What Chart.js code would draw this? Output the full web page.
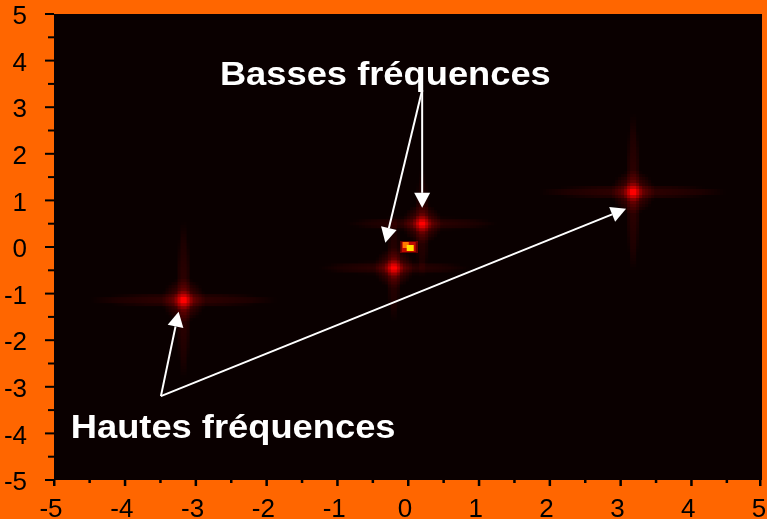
<!DOCTYPE html>
<html>
<head>
<meta charset="utf-8">
<script src="https://cdn.jsdelivr.net/npm/chart.js@4.4.1/dist/chart.umd.min.js"></script>
<style>
  html, body { margin: 0; padding: 0; background: #ff6600; }
  canvas { display: block; }
</style>
</head>
<body>
<canvas id="chart" width="767" height="519"></canvas>
<script>
const tickValues = [-5, -4, -3, -2, -1, 0, 1, 2, 3, 4, 5]
const minorTickValues = [-4.5, -3.5, -2.5, -1.5, -0.5, 0.5, 1.5, 2.5, 3.5, 4.5]

// spectrum peaks (frequency plane)
const innerPeakX = [0.2, -0.2]
const innerPeakY = [0.5, -0.45]
const outerPeakX = [3.18, -3.17]
const outerPeakY = [1.18, -1.14]
const centerX = [0.01]
const centerY = [0.0]

// annotations
const labelTexts = ['Basses fréquences', 'Hautes fréquences']
const labelX = [-0.32, -2.47]
const labelY = [3.48, -4.1]
const arrowFromX = [0.2, 0.2, -3.49, -3.49]
const arrowFromY = [3.37, 3.37, -3.2, -3.2]
const arrowToX = [0.2, -0.32, -3.24, 3.08]
const arrowToY = [0.84, 0.09, -1.39, 0.82]

const FONT = '"Liberation Sans", Arial, sans-serif'

const makeGlow = (armH, armV, coreR, armGain) => {
  const k = 3
  const w = Math.ceil((armH * 2) / k) + 2
  const h = Math.ceil((armV * 2) / k) + 2
  const small = document.createElement('canvas')
  small.width = w
  small.height = h
  const c = small.getContext('2d')
  c.fillStyle = '#000'
  c.fillRect(0, 0, w, h)
  c.globalCompositeOperation = 'lighter'
  const ellipse = (rx, ry, stops) => {
    c.save()
    c.translate(w / 2, h / 2)
    c.scale(rx / 100, ry / 100)
    const g = c.createRadialGradient(0, 0, 0, 0, 0, 100)
    stops.forEach(([o, col]) => g.addColorStop(o, col))
    c.fillStyle = g
    c.fillRect(-100, -100, 200, 200)
    c.restore()
  }
  const r = (v) => `rgb(${Math.round(v * armGain)},0,0)`
  const arm = [[0, r(55)], [0.3, r(34)], [0.75, r(18)], [1, 'rgb(0,0,0)']]
  ellipse(armH / k, 7 / k, arm)
  ellipse(7 / k, armV / k, arm)
  ellipse(coreR / k, coreR / k, [[0, 'rgb(215,0,0)'], [0.2, 'rgb(130,0,0)'], [0.5, 'rgb(45,0,0)'], [1, 'rgb(0,0,0)']])
  const big = document.createElement('canvas')
  big.width = w * k
  big.height = h * k
  const b = big.getContext('2d')
  b.imageSmoothingEnabled = false
  b.drawImage(small, 0, 0, w * k, h * k)
  return big
}

const makeCenter = () => {
  const cv = document.createElement('canvas')
  cv.width = 18
  cv.height = 12
  const c = cv.getContext('2d')
  c.fillStyle = 'rgb(80,0,0)'
  c.fillRect(0, 0, 18, 12)
  c.fillStyle = 'rgb(180,10,0)'
  c.fillRect(2, 1, 14, 10)
  c.fillStyle = 'rgb(255,120,0)'
  c.fillRect(3, 1, 6, 6)
  c.fillStyle = 'rgb(255,225,0)'
  c.fillRect(7, 4, 7, 6)
  return cv
}

const decorPlugin = {
  id: 'decor',
  beforeDraw(chart) {
    const { ctx, chartArea: a } = chart
    ctx.save()
    ctx.fillStyle = '#ff6600'
    ctx.fillRect(0, 0, chart.width, chart.height)
    ctx.fillStyle = '#0a0000'
    ctx.fillRect(a.left, a.top, a.right - a.left, a.bottom - a.top)
    ctx.restore()
  },
  beforeDatasetsDraw(chart) {
    chart.ctx.save()
    chart.ctx.globalCompositeOperation = 'lighter'
  },
  afterDatasetsDraw(chart) {
    chart.ctx.restore()
  },
  afterDraw(chart) {
    const { ctx, chartArea: a, scales: { x, y } } = chart
    ctx.save()
    // axis ticks
    ctx.fillStyle = '#000'
    tickValues.forEach((v) => {
      ctx.fillRect(a.left - 9, y.getPixelForValue(v) - 1, 9, 2)
      ctx.fillRect(Math.min(x.getPixelForValue(v), a.right - 2) - 1, a.bottom, 2.5, 6)
    })
    minorTickValues.forEach((v) => {
      ctx.fillRect(a.left - 6, y.getPixelForValue(v) - 1, 6, 2)
      ctx.fillRect(x.getPixelForValue(v) - 1, a.bottom, 2.5, 3)
    })
    // arrows
    ctx.strokeStyle = '#fff'
    ctx.fillStyle = '#fff'
    ctx.lineWidth = 2
    for (let i = 0; i < arrowFromX.length; i += 1) {
      const fx = x.getPixelForValue(arrowFromX[i])
      const fy = y.getPixelForValue(arrowFromY[i])
      const tx = x.getPixelForValue(arrowToX[i])
      const ty = y.getPixelForValue(arrowToY[i])
      const len = Math.hypot(tx - fx, ty - fy)
      const ux = (tx - fx) / len
      const uy = (ty - fy) / len
      const bx = tx - ux * 15
      const by = ty - uy * 15
      ctx.beginPath()
      ctx.moveTo(fx, fy)
      ctx.lineTo(bx, by)
      ctx.stroke()
      ctx.beginPath()
      ctx.moveTo(tx, ty)
      ctx.lineTo(bx - uy * 8, by + ux * 8)
      ctx.lineTo(bx + uy * 8, by - ux * 8)
      ctx.closePath()
      ctx.fill()
    }
    // labels
    ctx.font = `bold 33px ${FONT}`
    ctx.textAlign = 'center'
    ctx.textBaseline = 'alphabetic'
    labelTexts.forEach((t, i) => {
      ctx.save()
      ctx.translate(x.getPixelForValue(labelX[i]), y.getPixelForValue(labelY[i]))
      ctx.scale(1.1, 1)
      ctx.fillText(t, 0, 0)
      ctx.restore()
    })
    ctx.restore()
  },
}

const axisTicks = (extra) => ({
  color: '#000',
  font: { family: FONT, size: 26 },
  autoSkip: false,
  maxRotation: 0,
  callback: (v) => String(v),
  ...extra,
})

const outerGlow = makeGlow(95, 80, 22, 1)
const innerGlow = makeGlow(75, 55, 20, 0.9)
const centerDot = makeCenter()

new Chart(document.getElementById('chart'), {
  type: 'scatter',
  data: {
    datasets: [
      {
        data: outerPeakX.map((v, i) => ({ x: v, y: outerPeakY[i] })),
        pointStyle: outerGlow,
        pointRadius: 3,
      },
      {
        data: innerPeakX.map((v, i) => ({ x: v, y: innerPeakY[i] })),
        pointStyle: innerGlow,
        pointRadius: 3,
      },
      {
        data: centerX.map((v, i) => ({ x: v, y: centerY[i] })),
        pointStyle: centerDot,
        pointRadius: 3,
      },
    ],
  },
  options: {
    responsive: false,
    devicePixelRatio: 1,
    animation: false,
    events: [],
    layout: { padding: { top: 14, right: 3, left: 0, bottom: 0 } },
    plugins: { legend: { display: false }, tooltip: { enabled: false } },
    scales: {
      x: {
        type: 'linear',
        min: -5,
        max: 5,
        afterBuildTicks: (scale) => { scale.ticks = tickValues.map((v) => ({ value: v })) },
        afterFit: (scale) => {
          scale.height = 39
          scale.paddingLeft = 0
          scale.paddingRight = 0
        },
        grid: { display: false },
        border: { display: false },
        ticks: axisTicks({ padding: 6, labelOffset: -3 }),
      },
      y: {
        type: 'linear',
        min: -5,
        max: 5,
        afterBuildTicks: (scale) => { scale.ticks = tickValues.map((v) => ({ value: v })) },
        afterFit: (scale) => {
          scale.width = 54
          scale.paddingTop = 0
          scale.paddingBottom = 0
        },
        grid: { display: false },
        border: { display: false },
        ticks: axisTicks({ padding: 19, labelOffset: 3 }),
      },
    },
  },
  plugins: [decorPlugin],
})
</script>
</body>
</html>
